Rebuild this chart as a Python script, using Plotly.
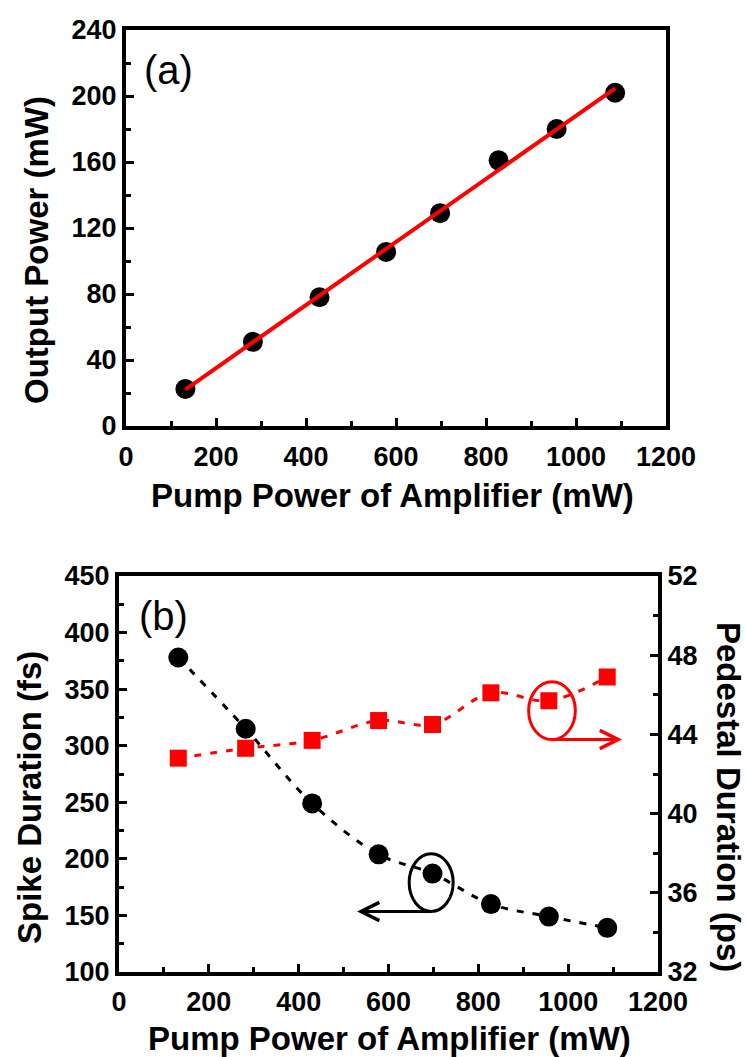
import numpy as np
import plotly.graph_objects as go

# ---------------- data ----------------
pump_power = [132, 282, 430, 578, 698, 828, 957, 1087]          # mW
output_power = [22.5, 51, 78, 105.5, 129, 161, 180, 202]        # mW
spike_duration = [378, 315, 249, 204, 187, 160, 149, 139]       # fs
pedestal_duration = [42.8, 43.3, 43.7, 44.7, 44.5, 46.1, 45.7, 46.9]  # ps

x_ticks = [0, 200, 400, 600, 800, 1000, 1200]
out_ticks = [0, 40, 80, 120, 160, 200, 240]
spike_ticks = [100, 150, 200, 250, 300, 350, 400, 450]
ped_ticks = [32, 36, 40, 44, 48, 52]

# linear fit for panel (a)
slope, intercept = np.polyfit(pump_power, output_power, 1)
fit_x = [pump_power[0], pump_power[-1]]
fit_y = [slope * v + intercept for v in fit_x]

W, H = 746, 1057
FONT = "Liberation Sans"
tickfont = dict(family=FONT, size=27, color="black", weight="bold")
titlefont = dict(family=FONT, size=33, color="black", weight="bold")

fig = go.Figure()

# panel (a)
fig.add_trace(go.Scatter(x=pump_power, y=output_power, mode="markers",
                         marker=dict(symbol="circle", size=20, color="black"),
                         xaxis="x", yaxis="y", showlegend=False))
fig.add_trace(go.Scatter(x=fit_x, y=fit_y, mode="lines",
                         line=dict(color="#ff0000", width=4),
                         xaxis="x", yaxis="y", showlegend=False))

# panel (b)
fig.add_trace(go.Scatter(x=pump_power, y=spike_duration, mode="lines+markers",
                         line=dict(color="black", width=3, dash="7px,9px", shape="spline"),
                         marker=dict(symbol="circle", size=20, color="black"),
                         xaxis="x2", yaxis="y2", showlegend=False))
fig.add_trace(go.Scatter(x=pump_power, y=pedestal_duration, mode="lines+markers",
                         line=dict(color="#ff0000", width=3, dash="7px,9px", shape="spline"),
                         marker=dict(symbol="square", size=17, color="#ff0000"),
                         xaxis="x2", yaxis="y3", showlegend=False))

def px_x(a, b):
    return [a / W, b / W]

def px_y(top, bottom):
    return [1 - bottom / H, 1 - top / H]

def minor(dtick, tick0):
    return dict(dtick=dtick, tick0=tick0, ticks="inside", ticklen=5, tickwidth=3, tickcolor="black")

common = dict(showline=True, linewidth=4, linecolor="black", mirror=True,
              ticks="inside", ticklen=8, tickwidth=3, tickcolor="black",
              showgrid=False, zeroline=False, tickfont=tickfont, automargin=False)

fig.update_layout(
    width=W, height=H,
    margin=dict(l=0, r=0, t=0, b=0, autoexpand=False),
    paper_bgcolor="white", plot_bgcolor="white",
    xaxis=dict(domain=px_x(126, 666), range=[0, 1200], tickvals=x_ticks, minor=minor(100, 0),
               ticklabelstandoff=4, anchor="y", **common),
    yaxis=dict(domain=px_y(30, 426), range=[0, 240], tickvals=out_ticks, minor=minor(20, 0),
               anchor="x", **common),
    xaxis2=dict(domain=px_x(119, 658), range=[0, 1200], tickvals=x_ticks, minor=minor(100, 0),
                ticklabelstandoff=3, anchor="y2", **common),
    yaxis2=dict(domain=px_y(576, 972), range=[100, 450], tickvals=spike_ticks, minor=minor(25, 100),
                anchor="x2", **common),
    yaxis3=dict(range=[32, 52], tickvals=ped_ticks, overlaying="y2", side="right",
                minor=minor(2, 32), anchor="x2", **common),
)

# axis titles (placed as paper annotations)
def title(text, xpx, ypx, angle=0):
    fig.add_annotation(x=xpx / W, y=1 - ypx / H, xref="paper", yref="paper",
                       text=text, textangle=angle, showarrow=False,
                       xanchor="center", yanchor="middle", font=titlefont)

title("Pump Power of Amplifier (mW)", 392, 495)
title("Output Power (mW)", 37, 250, -90)
title("Pump Power of Amplifier (mW)", 389, 1038)
title("Spike Duration (fs)", 29, 798, -90)
title("Pedestal Duration (ps)", 729, 797, 90)

# panel labels
fig.add_annotation(x=36, y=216, xref="x", yref="y", text="(a)", showarrow=False,
                   xanchor="left", yanchor="middle",
                   font=dict(family=FONT, size=40, color="black"))
fig.add_annotation(x=40, y=415, xref="x2", yref="y2", text="(b)", showarrow=False,
                   xanchor="left", yanchor="middle",
                   font=dict(family=FONT, size=40, color="black"))

# ellipse + arrow markers for the axis assignment
i_b = 4  # black ellipse around spike point
bx, by = pump_power[i_b] - 3, spike_duration[i_b] - 8
fig.add_shape(type="circle", xref="x2", yref="y2",
              x0=bx - 49, x1=bx + 49, y0=by - 25.5, y1=by + 25.5,
              line=dict(color="black", width=3))
fig.add_annotation(x=530, y=by - 25.5, ax=bx, ay=by - 25.5, xref="x2", yref="y2",
                   axref="x2", ayref="y2", text="", showarrow=True,
                   arrowhead=5, arrowsize=1.2, arrowwidth=3, arrowcolor="black")

i_r = 6  # red ellipse around pedestal point
rx, ry = pump_power[i_r] + 7, pedestal_duration[i_r] - 0.5
fig.add_shape(type="circle", xref="x2", yref="y3",
              x0=rx - 52, x1=rx + 52, y0=ry - 1.46, y1=ry + 1.46,
              line=dict(color="#ff0000", width=3))
fig.add_annotation(x=1120, y=ry - 1.46, ax=rx, ay=ry - 1.46, xref="x2", yref="y3",
                   axref="x2", ayref="y3", text="", showarrow=True,
                   arrowhead=5, arrowsize=1.2, arrowwidth=3, arrowcolor="#ff0000")

fig.write_html("out.html", config={"displayModeBar": False},
               post_script="document.body.style.margin='0';document.body.style.overflow='hidden';")
